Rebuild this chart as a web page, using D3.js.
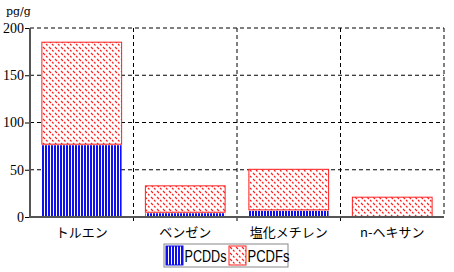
<!DOCTYPE html>
<html>
<head>
<meta charset="utf-8">
<script src="https://cdn.jsdelivr.net/npm/d3@7"></script>
<style>
  body { margin: 0; background: #fff; }
  svg { display: block; }
</style>
</head>
<body>
<div id="chart"></div>
<script>
// data
const categories = ['トルエン', 'ベンゼン', '塩化メチレン', 'n-ヘキサン'];
const pcdds = [76.5, 4.5, 7, 0];
const pcdfs = [109, 29, 44, 21.5];
const yTicks = [0, 50, 100, 150, 200];
const seriesNames = ['PCDDs', 'PCDFs'];

const width = 454, height = 272;
const margin = {top: 28, right: 10, bottom: 55, left: 30};
const plotW = width - margin.left - margin.right;
const plotH = height - margin.top - margin.bottom;

const svg = d3.select('#chart').append('svg')
    .attr('width', width)
    .attr('height', height);

// fill patterns
const defs = svg.append('defs');
const blue = defs.append('pattern')
    .attr('id', 'pat-pcdd')
    .attr('patternUnits', 'userSpaceOnUse')
    .attr('width', 3).attr('height', 4);
blue.append('rect').attr('width', 3).attr('height', 4).attr('fill', '#fff');
blue.append('rect').attr('width', 2).attr('height', 4).attr('fill', '#1010ee');

const red = defs.append('pattern')
    .attr('id', 'pat-pcdf')
    .attr('patternUnits', 'userSpaceOnUse')
    .attr('width', 6).attr('height', 6);
red.append('rect').attr('width', 6).attr('height', 6).attr('fill', '#fff');
red.append('path')
    .attr('d', 'M1,1L3,3M4,4L5.5,5.5')
    .attr('stroke', '#ff2020')
    .attr('stroke-width', 1.2);

const x = d3.scaleBand()
    .domain(categories)
    .range([0, plotW])
    .paddingInner(0.22)
    .paddingOuter(0.11);

const y = d3.scaleLinear()
    .domain([0, 200])
    .range([plotH, 0]);

const g = svg.append('g').attr('transform', `translate(${margin.left},${margin.top})`);

// horizontal grid
g.append('g')
    .selectAll('line')
    .data(yTicks.filter(d => d > 0))
    .enter()
    .append('line')
    .attr('x1', 0).attr('x2', plotW)
    .attr('y1', d => y(d)).attr('y2', d => y(d))
    .style('stroke', '#000')
    .style('stroke-dasharray', '4,3');

// vertical dividers between categories + right border
const dividers = d3.range(1, categories.length + 1).map(i => i * plotW / categories.length);
g.append('g')
    .selectAll('line')
    .data(dividers)
    .enter()
    .append('line')
    .attr('x1', d => d).attr('x2', d => d)
    .attr('y1', 0)
    .attr('y2', (d, i) => i < categories.length - 1 ? plotH + 5 : plotH)
    .style('stroke', '#000')
    .style('stroke-dasharray', '4,3');

// stacked bars
const stackData = categories.map((c, i) => ({cat: c, PCDDs: pcdds[i], PCDFs: pcdfs[i]}));
const stack = d3.stack().keys(seriesNames)(stackData);
const fills = {PCDDs: 'url(#pat-pcdd)', PCDFs: 'url(#pat-pcdf)'};
const strokes = {PCDDs: '#1010ee', PCDFs: '#ff2020'};

stack.forEach(layer => {
    g.append('g')
        .selectAll('rect')
        .data(layer.filter(d => d[1] - d[0] > 0))
        .enter()
        .append('rect')
        .attr('x', d => x(d.data.cat) + 0.5)
        .attr('y', d => y(d[1]) + 0.5)
        .attr('width', x.bandwidth() - 1)
        .attr('height', d => Math.max(0, y(d[0]) - y(d[1]) - 1))
        .style('fill', fills[layer.key])
        .style('stroke', layer.key === 'PCDFs' ? strokes[layer.key] : 'none');
});

// y axis
const yAxis = d3.axisLeft(y).tickValues(yTicks).tickSize(5).tickPadding(1);
const ya = g.append('g').call(yAxis);
ya.select('.domain').remove();
ya.selectAll('line').style('stroke', '#000');
ya.selectAll('text')
    .style('font-family', '"Liberation Serif", "DejaVu Serif", serif')
    .style('font-size', '14px')
    .style('fill', '#000');

g.append('line')
    .attr('x1', 0).attr('x2', 0)
    .attr('y1', 0).attr('y2', plotH + 1)
    .style('stroke', '#555')
    .style('stroke-width', 2);
g.append('line')
    .attr('x1', -1).attr('x2', plotW)
    .attr('y1', plotH).attr('y2', plotH)
    .style('stroke', '#555')
    .style('stroke-width', 2);

// x labels
g.append('g')
    .selectAll('text')
    .data(categories)
    .enter()
    .append('text')
    .text(d => d)
    .attr('x', d => x(d) + x.bandwidth() / 2)
    .attr('y', plotH + 20)
    .attr('text-anchor', 'middle')
    .style('font-family', '"Noto Sans CJK JP", sans-serif')
    .style('font-size', '13px')
    .style('fill', '#000');

// unit label
svg.append('text')
    .text('pg/g')
    .attr('x', 6).attr('y', 15)
    .style('font-family', '"DejaVu Serif", serif')
    .style('font-size', '11px')
    .style('fill', '#000');

// legend
const lg = svg.append('g').attr('transform', 'translate(164,244)');
lg.append('rect')
    .attr('width', 124).attr('height', 23)
    .style('fill', '#fff')
    .style('stroke', '#888');
const items = lg.selectAll('g.item')
    .data(seriesNames)
    .enter()
    .append('g')
    .attr('transform', (d, i) => `translate(${2 + i * 63},2)`);
items.append('rect')
    .attr('width', 17).attr('height', 19)
    .style('fill', d => fills[d])
    .style('stroke', d => strokes[d]);
items.append('text')
    .text(d => d)
    .attr('x', 18.5).attr('y', 16)
    .style('font-family', '"Liberation Sans", sans-serif')
    .style('font-size', '16px')
    .attr('textLength', 42)
    .attr('lengthAdjust', 'spacingAndGlyphs')
    .style('fill', '#000');
</script>
</body>
</html>
